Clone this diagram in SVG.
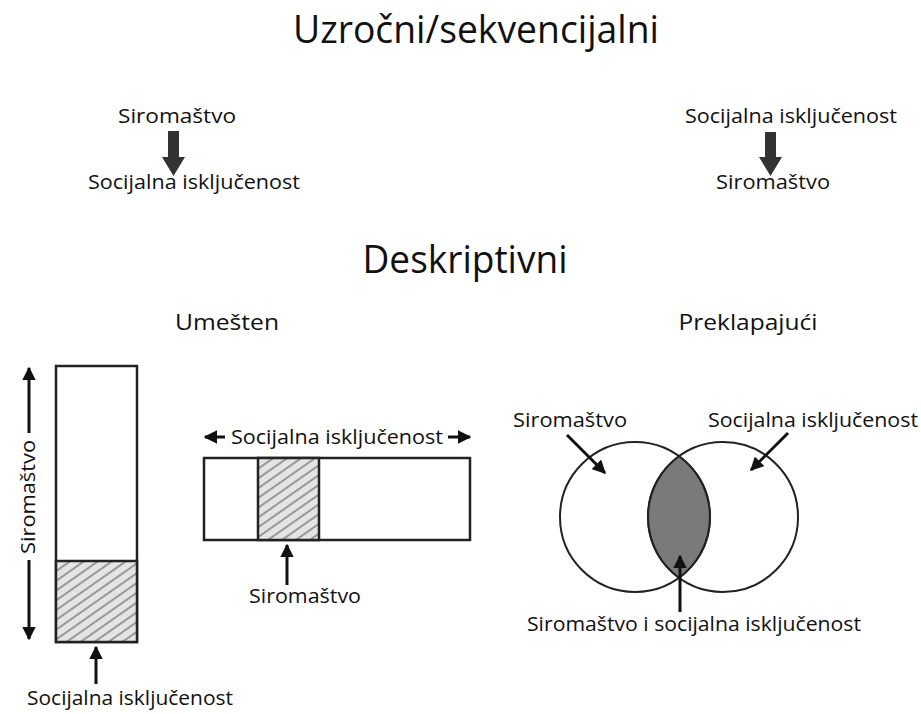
<svg xmlns="http://www.w3.org/2000/svg" width="921" height="714" viewBox="0 0 921 714">
<defs>
<style>
text{font-family:"Open Sans","Noto Sans","Liberation Sans",sans-serif;fill:#111;font-weight:500}
.h1{font-size:39px}
.h2{font-size:22px}
.lb{font-size:20px}
.box{fill:#fff;stroke:#222;stroke-width:2.5}
.ln{stroke:#111;stroke-width:3;fill:none}
.blk{fill:#333}
</style>
<marker id="ah" viewBox="0 0 10 10" refX="9" refY="5" markerWidth="4.5" markerHeight="4.5" orient="auto" markerUnits="strokeWidth">
<path d="M0,0 L10,5 L0,10 z" fill="#111"/>
</marker>
<pattern id="hatch" width="8" height="8" patternUnits="userSpaceOnUse" patternTransform="rotate(-35)">
<rect width="8" height="8" fill="#e4e4e4"/>
<line x1="0" y1="4" x2="8" y2="4" stroke="#777" stroke-width="1.4"/>
</pattern>
</defs>
<rect width="921" height="714" fill="#fff"/>

<g id="title-causal"><text class="h1" x="476" y="43" text-anchor="middle" textLength="366" lengthAdjust="spacingAndGlyphs">Uzročni/sekvencijalni</text></g>

<g id="causal-left">
<text class="lb" x="177" y="123" text-anchor="middle" textLength="118" lengthAdjust="spacingAndGlyphs">Siromaštvo</text>
<polygon class="blk" points="168,131 179,131 179,157 185,157 173.5,176 162,157 168,157"/>
<text class="lb" x="194" y="189" text-anchor="middle" textLength="212" lengthAdjust="spacingAndGlyphs">Socijalna isključenost</text>
</g>

<g id="causal-right">
<text class="lb" x="791" y="123" text-anchor="middle" textLength="212" lengthAdjust="spacingAndGlyphs">Socijalna isključenost</text>
<polygon class="blk" points="765,132 776,132 776,157 782,157 770.5,176 759,157 765,157"/>
<text class="lb" x="773" y="189" text-anchor="middle" textLength="114" lengthAdjust="spacingAndGlyphs">Siromaštvo</text>
</g>

<g id="title-descriptive"><text class="h1" x="465" y="273" text-anchor="middle" textLength="205" lengthAdjust="spacingAndGlyphs">Deskriptivni</text></g>
<g id="sub-nested"><text class="h2" x="227" y="330" text-anchor="middle" textLength="104" lengthAdjust="spacingAndGlyphs">Umešten</text></g>
<g id="sub-overlap"><text class="h2" x="748" y="330" text-anchor="middle" textLength="139" lengthAdjust="spacingAndGlyphs">Preklapajući</text></g>

<g id="nested-vertical">
<rect class="box" x="56" y="366" width="81" height="276"/>
<rect x="56" y="561" width="81" height="81" fill="url(#hatch)" stroke="#222" stroke-width="2.5"/>
<text class="lb" transform="translate(35,497) rotate(-90)" text-anchor="middle" textLength="114" lengthAdjust="spacingAndGlyphs">Siromaštvo</text>
<text class="lb" x="27" y="705" textLength="206" lengthAdjust="spacingAndGlyphs">Socijalna isključenost</text>
</g>

<g id="nested-horizontal">
<rect class="box" x="204" y="458" width="266" height="82"/>
<rect x="258" y="458" width="61" height="82" fill="url(#hatch)" stroke="#222" stroke-width="2.5"/>
<text class="lb" x="231" y="444" textLength="212" lengthAdjust="spacingAndGlyphs">Socijalna isključenost</text>
<text class="lb" x="305" y="603" text-anchor="middle" textLength="112" lengthAdjust="spacingAndGlyphs">Siromaštvo</text>
</g>

<g id="venn">
<circle cx="635" cy="517" r="75" fill="none" stroke="#222" stroke-width="2"/>
<circle cx="723" cy="517" r="75" fill="none" stroke="#222" stroke-width="2"/>
<path d="M679,456.3 A75,75 0 0,1 679,577.7 A75,75 0 0,1 679,456.3 z" fill="#7a7a7a" stroke="#222" stroke-width="2"/>
<text class="lb" x="570" y="427" text-anchor="middle" textLength="114" lengthAdjust="spacingAndGlyphs">Siromaštvo</text>
<text class="lb" x="813" y="427" text-anchor="middle" textLength="210" lengthAdjust="spacingAndGlyphs">Socijalna isključenost</text>
<text class="lb" x="694" y="631" text-anchor="middle" textLength="334" lengthAdjust="spacingAndGlyphs">Siromaštvo i socijalna isključenost</text>
</g>

<g id="connectors">
<line class="ln" x1="29" y1="433" x2="29" y2="368" marker-end="url(#ah)"/>
<line class="ln" x1="29" y1="560" x2="29" y2="639" marker-end="url(#ah)"/>
<line class="ln" x1="96" y1="684" x2="96" y2="647" marker-end="url(#ah)"/>
<line class="ln" x1="225" y1="437" x2="205" y2="437" marker-end="url(#ah)"/>
<line class="ln" x1="448" y1="437" x2="470" y2="437" marker-end="url(#ah)"/>
<line class="ln" x1="287" y1="585" x2="287" y2="545" marker-end="url(#ah)"/>
<line class="ln" x1="567" y1="435" x2="605" y2="473" marker-end="url(#ah)"/>
<line class="ln" x1="788" y1="433" x2="751" y2="470" marker-end="url(#ah)"/>
<line class="ln" x1="680" y1="612" x2="680" y2="556" marker-end="url(#ah)"/>
</g>
</svg>
